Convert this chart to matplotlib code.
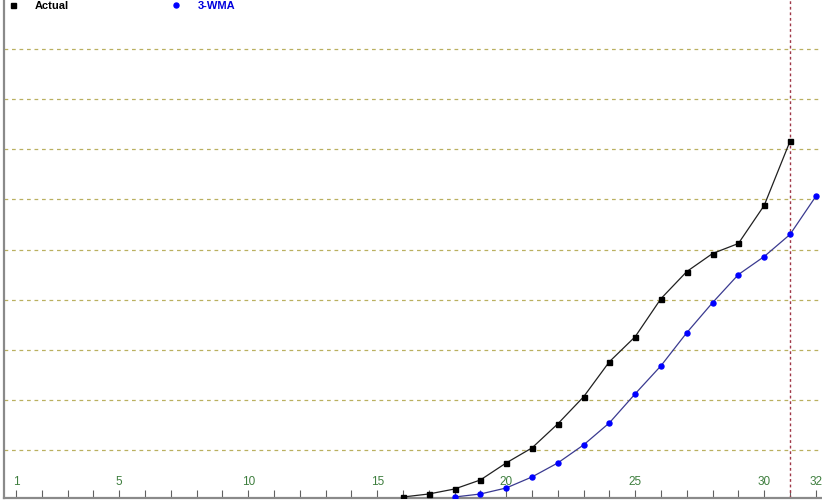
import numpy as np
import matplotlib
matplotlib.use("Agg")
import matplotlib.pyplot as plt

plt.rcParams['font.family'] = ['Liberation Sans', 'DejaVu Sans']

# values (grid step = 50)
actual_x = list(range(16, 32))
actual_y = [3, 6, 11, 20, 37, 52, 76, 103, 138, 163, 201, 228, 246, 256, 294, 358]

wma_x = list(range(18, 33))
wma_y = [3, 6, 12, 23, 37, 55, 77, 106, 134, 167, 197, 225, 243, 265, 303]

periods = list(range(1, 33))
labelled = [1, 5, 10, 15, 20, 25, 30, 32]
grid_levels = [50, 100, 150, 200, 250, 300, 350, 400, 450]
now_period = 31

fig = plt.figure(figsize=(8.22, 5.01), dpi=100)
ax = fig.add_axes([4 / 822, 3 / 501, 818 / 822, 498 / 501])

ax.plot(actual_x, actual_y, color='#202020', lw=0.9, marker='s', ms=3.6,
        mfc='black', mec='black', label='Actual', zorder=3)
ax.plot(wma_x, wma_y, color='#3a3a90', lw=0.9, marker='o', ms=3.6,
        mfc='#0000ff', mec='#0000ff', label='3-WMA', zorder=3)

ax.axvline(now_period, color='#a03848', lw=1, ls=(0, (2, 2)), zorder=2)

ax.set_xlim(1 - 12 / 25.8, 1 + 818 / 25.8 - 12 / 25.8)
ax.set_ylim(2, 499)

ax.set_yticks(grid_levels)
ax.yaxis.grid(True, color='#bab060', lw=0.9, ls=(0, (3, 3)))
ax.tick_params(axis='y', left=False, labelleft=False)

ax.set_xticks(periods)
ax.set_xticklabels([str(p) if p in labelled else '' for p in periods])
ax.tick_params(axis='x', direction='in', length=6, width=0.8, color='#606060',
               labelsize=8.5, labelcolor='#3e7e3e', pad=-16)

for side in ('top', 'right'):
    ax.spines[side].set_visible(False)
for side in ('left', 'bottom'):
    ax.spines[side].set_color('#8a8a8a')
    ax.spines[side].set_linewidth(1.6)

leg = ax.legend(loc='upper left', bbox_to_anchor=(-0.0086, 1.018), ncol=2,
                frameon=False, handlelength=1.0, handletextpad=1.5,
                columnspacing=9.1, prop={'size': 8, 'weight': 'bold'})
for line in leg.get_lines():
    line.set_linestyle('none')
for text, col in zip(leg.get_texts(), ['black', '#0000dd']):
    text.set_color(col)

fig.savefig('out.png', dpi=100)
